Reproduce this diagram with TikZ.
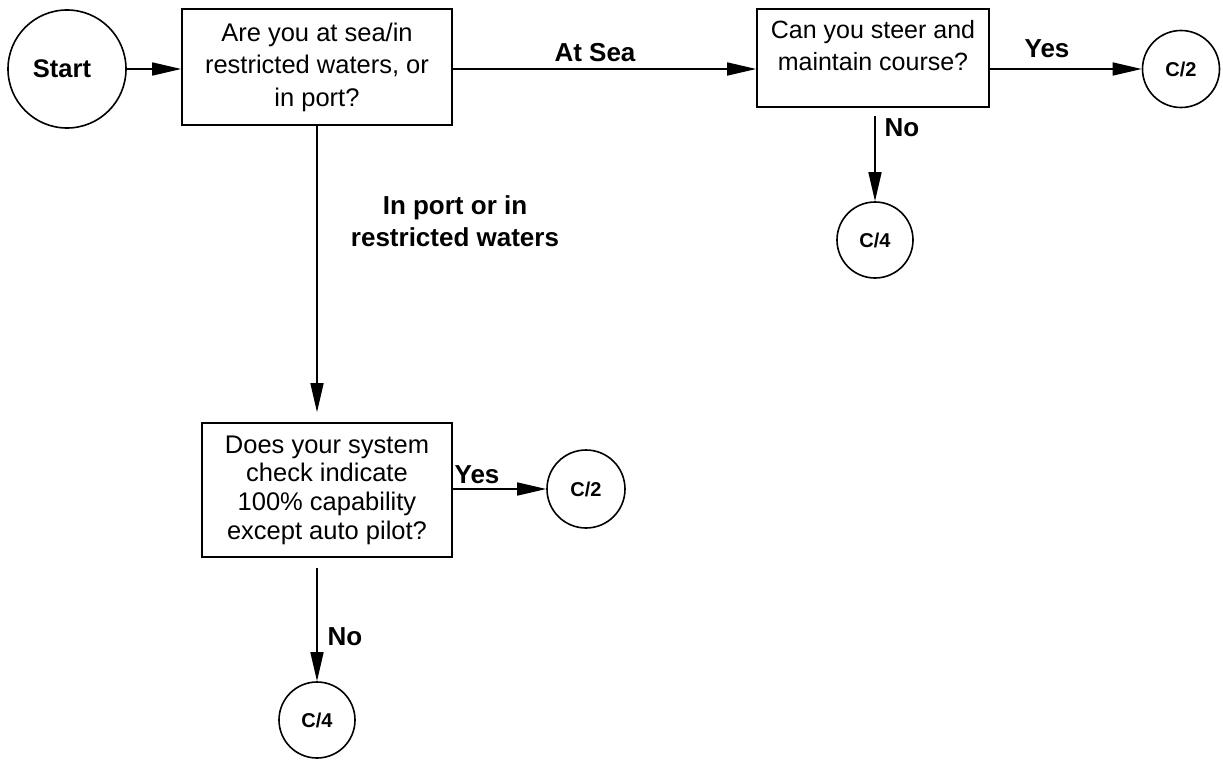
\documentclass[tikz,border=0pt]{standalone}
\usepackage{fontspec}
\setmainfont{Liberation Sans}
\usetikzlibrary{arrows.meta}
\tikzset{
  box/.style={draw, line width=1.6pt, rectangle, inner sep=0pt},
  conn/.style={draw, line width=1.6pt, circle, inner sep=0pt, font=\fontsize{20}{24}\selectfont\bfseries},
  boxtext/.style={inner sep=0pt, align=center},
  lbl/.style={inner sep=0pt, align=center, font=\fontsize{26}{32}\selectfont\bfseries},
  arr/.style={line width=1.6pt, -{Triangle[length=29pt,width=13pt]}},
  plain/.style={line width=1.6pt}
}
\begin{document}
\begin{tikzpicture}[x=1pt,y=-1pt]
\useasboundingbox (0,0) rectangle (1223,760);
% nodes
\node[conn, minimum size=118pt, font=\fontsize{25.5}{30}\selectfont\bfseries] (start) at (67,69) {\hspace*{-10pt}Start};
\node[box, minimum width=270pt, minimum height=116pt, font=\fontsize{25.5}{32.5}\selectfont, align=center] (q1) at (317,67) {Are you at sea/in\\restricted waters, or\\in port?};
\node[box, minimum width=232pt, minimum height=98pt] (q3) at (873,58) {};
\node[boxtext, font=\fontsize{25}{32}\selectfont] (q3text) at ([yshift=12pt]q3.center) {Can you steer and\\maintain course?};
\node[conn, minimum size=77pt] (c2a) at (1181,69) {C/2};
\node[conn, minimum size=76pt] (c4a) at (875,240) {C/4};
\node[box, minimum width=250pt, minimum height=134pt, font=\fontsize{25.5}{28.7}\selectfont, align=center] (q2) at (327,490) {Does your system\\check indicate\\100\% capability\\except auto pilot?};
\node[conn, minimum size=78pt] (c2b) at (586,489) {C/2};
\node[conn, minimum size=76pt] (c4b) at (317,720) {C/4};
% connectors
\draw[arr] (start.east) -- (start.east -| q1.west);
\draw[arr] (q1.east |- start.east) -- (q3.west |- start.east);
\draw[arr] (q3.east |- c2a.west) -- (c2a.west);
\draw[arr] ([yshift=-8pt]c4a.north |- q3.south) -- (c4a.north);
\draw[arr] (q1.south) -- ([yshift=10pt]q1.south |- q2.north);
\draw[arr] (q2.east |- c2b.west) -- (c2b.west);
\draw[arr] ([yshift=-10pt]c4b.north |- q2.south) -- (c4b.north);
% labels
\node[lbl] (latsea) at (595,53) {At Sea};
\node[lbl] (lyes1) at (1047,49) {Yes};
\node[lbl] (lno1) at (902,128) {No};
\node[lbl] (lport) at (455,221) {In port or in\\restricted waters};
\node[lbl] (lyes2) at (477,475) {Yes};
\node[lbl] (lno2) at (345,637) {No};
\end{tikzpicture}
\end{document}
